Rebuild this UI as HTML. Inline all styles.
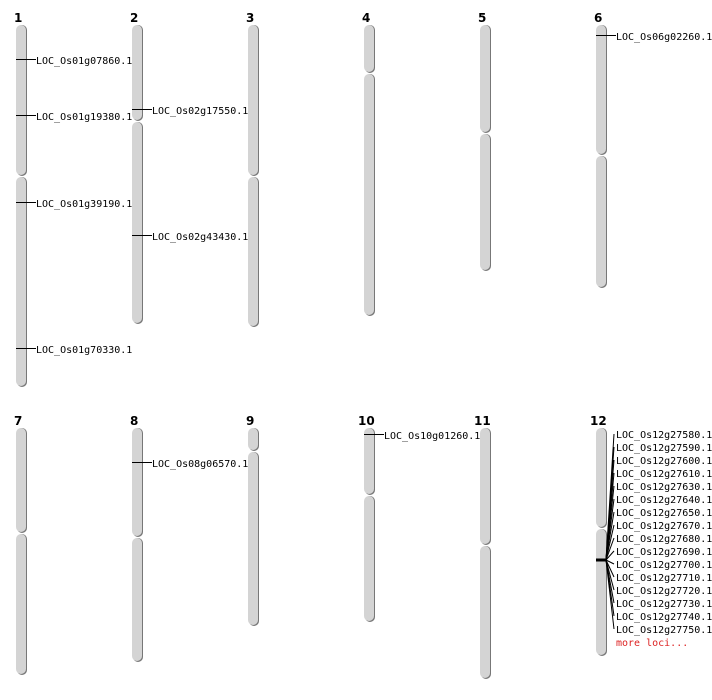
<!DOCTYPE html>
<html><head><meta charset="utf-8"><style>
html,body{margin:0;padding:0;background:#fff;}
svg{display:block;}
text{font-family:"DejaVu Sans Mono","Liberation Mono",monospace;font-size:10px;fill:#000;}
.n{font-family:"DejaVu Sans","Liberation Sans",sans-serif;font-weight:bold;font-size:12px;}
.s{fill:#777;}
.c{fill:#d4d4d4;}
line{stroke:#000;stroke-width:1;}
</style></head><body>
<svg width="712" height="700" viewBox="0 0 712 700" xmlns="http://www.w3.org/2000/svg">
<g id="top">
<text class="n" x="14" y="22">1</text>
<text class="n" x="130" y="22">2</text>
<text class="n" x="246" y="22">3</text>
<text class="n" x="362" y="22">4</text>
<text class="n" x="478" y="22">5</text>
<text class="n" x="594" y="22">6</text>
<text class="n" x="14" y="425">7</text>
<text class="n" x="130" y="425">8</text>
<text class="n" x="246" y="425">9</text>
<text class="n" x="358" y="425">10</text>
<text class="n" x="474" y="425">11</text>
<text class="n" x="590" y="425">12</text>
</g>
<!-- chromosomes: shadow then body -->
<g>
<rect class="s" x="17" y="25" width="10" height="151" rx="5"/><rect class="c" x="16" y="25" width="10" height="150" rx="5"/>
<rect class="s" x="17" y="177" width="10" height="210" rx="5"/><rect class="c" x="16" y="177" width="10" height="209" rx="5"/>
<rect class="s" x="133" y="25" width="10" height="96" rx="5"/><rect class="c" x="132" y="25" width="10" height="95" rx="5"/>
<rect class="s" x="133" y="122" width="10" height="202" rx="5"/><rect class="c" x="132" y="122" width="10" height="201" rx="5"/>
<rect class="s" x="249" y="25" width="10" height="151" rx="5"/><rect class="c" x="248" y="25" width="10" height="150" rx="5"/>
<rect class="s" x="249" y="177" width="10" height="150" rx="5"/><rect class="c" x="248" y="177" width="10" height="149" rx="5"/>
<rect class="s" x="365" y="25" width="10" height="48" rx="5"/><rect class="c" x="364" y="25" width="10" height="47" rx="5"/>
<rect class="s" x="365" y="74" width="10" height="242" rx="5"/><rect class="c" x="364" y="74" width="10" height="241" rx="5"/>
<rect class="s" x="481" y="25" width="10" height="108" rx="5"/><rect class="c" x="480" y="25" width="10" height="107" rx="5"/>
<rect class="s" x="481" y="134" width="10" height="137" rx="5"/><rect class="c" x="480" y="134" width="10" height="136" rx="5"/>
<rect class="s" x="597" y="25" width="10" height="130" rx="5"/><rect class="c" x="596" y="25" width="10" height="129" rx="5"/>
<rect class="s" x="597" y="156" width="10" height="132" rx="5"/><rect class="c" x="596" y="156" width="10" height="131" rx="5"/>

<rect class="s" x="17" y="428" width="10" height="105" rx="5"/><rect class="c" x="16" y="428" width="10" height="104" rx="5"/>
<rect class="s" x="17" y="534" width="10" height="141" rx="5"/><rect class="c" x="16" y="534" width="10" height="140" rx="5"/>
<rect class="s" x="133" y="428" width="10" height="109" rx="5"/><rect class="c" x="132" y="428" width="10" height="108" rx="5"/>
<rect class="s" x="133" y="538" width="10" height="124" rx="5"/><rect class="c" x="132" y="538" width="10" height="123" rx="5"/>
<rect class="s" x="249" y="428" width="10" height="23" rx="5"/><rect class="c" x="248" y="428" width="10" height="22" rx="5"/>
<rect class="s" x="249" y="452" width="10" height="174" rx="5"/><rect class="c" x="248" y="452" width="10" height="173" rx="5"/>
<rect class="s" x="365" y="428" width="10" height="67" rx="5"/><rect class="c" x="364" y="428" width="10" height="66" rx="5"/>
<rect class="s" x="365" y="496" width="10" height="126" rx="5"/><rect class="c" x="364" y="496" width="10" height="125" rx="5"/>
<rect class="s" x="481" y="428" width="10" height="117" rx="5"/><rect class="c" x="480" y="428" width="10" height="116" rx="5"/>
<rect class="s" x="481" y="546" width="10" height="133" rx="5"/><rect class="c" x="480" y="546" width="10" height="132" rx="5"/>
<rect class="s" x="597" y="428" width="10" height="100" rx="5"/><rect class="c" x="596" y="428" width="10" height="99" rx="5"/>
<rect class="s" x="597" y="529" width="10" height="127" rx="5"/><rect class="c" x="596" y="529" width="10" height="126" rx="5"/>
</g>
<!-- markers -->
<g>
<line x1="16" y1="59.5" x2="36" y2="59.5"/><text x="36" y="64">LOC_Os01g07860.1</text>
<line x1="16" y1="115.5" x2="36" y2="115.5"/><text x="36" y="120">LOC_Os01g19380.1</text>
<line x1="16" y1="202.5" x2="36" y2="202.5"/><text x="36" y="207">LOC_Os01g39190.1</text>
<line x1="16" y1="348.5" x2="36" y2="348.5"/><text x="36" y="353">LOC_Os01g70330.1</text>
<line x1="132" y1="109.5" x2="152" y2="109.5"/><text x="152" y="114">LOC_Os02g17550.1</text>
<line x1="132" y1="235.5" x2="152" y2="235.5"/><text x="152" y="240">LOC_Os02g43430.1</text>
<line x1="596" y1="35.5" x2="616" y2="35.5"/><text x="616" y="40">LOC_Os06g02260.1</text>
<line x1="132" y1="462.5" x2="152" y2="462.5"/><text x="152" y="467">LOC_Os08g06570.1</text>
<line x1="364" y1="434.5" x2="384" y2="434.5"/><text x="384" y="439">LOC_Os10g01260.1</text>
</g>
<g>
<line x1="596" y1="560" x2="606" y2="560" style="stroke-width:3"/>
<line x1="606" y1="560" x2="614" y2="434"/><line x1="606" y1="560" x2="614" y2="447"/>
<line x1="606" y1="560" x2="614" y2="460"/><line x1="606" y1="560" x2="614" y2="473"/>
<line x1="606" y1="560" x2="614" y2="486"/><line x1="606" y1="560" x2="614" y2="499"/>
<line x1="606" y1="560" x2="614" y2="512"/><line x1="606" y1="560" x2="614" y2="525"/>
<line x1="606" y1="560" x2="614" y2="538"/><line x1="606" y1="560" x2="614" y2="551"/>
<line x1="606" y1="560" x2="614" y2="564"/><line x1="606" y1="560" x2="614" y2="577"/>
<line x1="606" y1="560" x2="614" y2="590"/><line x1="606" y1="560" x2="614" y2="603"/>
<line x1="606" y1="560" x2="614" y2="616"/><line x1="606" y1="560" x2="614" y2="629"/>
<text x="616" y="438">LOC_Os12g27580.1</text>
<text x="616" y="451">LOC_Os12g27590.1</text>
<text x="616" y="464">LOC_Os12g27600.1</text>
<text x="616" y="477">LOC_Os12g27610.1</text>
<text x="616" y="490">LOC_Os12g27630.1</text>
<text x="616" y="503">LOC_Os12g27640.1</text>
<text x="616" y="516">LOC_Os12g27650.1</text>
<text x="616" y="529">LOC_Os12g27670.1</text>
<text x="616" y="542">LOC_Os12g27680.1</text>
<text x="616" y="555">LOC_Os12g27690.1</text>
<text x="616" y="568">LOC_Os12g27700.1</text>
<text x="616" y="581">LOC_Os12g27710.1</text>
<text x="616" y="594">LOC_Os12g27720.1</text>
<text x="616" y="607">LOC_Os12g27730.1</text>
<text x="616" y="620">LOC_Os12g27740.1</text>
<text x="616" y="633">LOC_Os12g27750.1</text>
<text x="616" y="646" style="fill:#d22">more loci...</text>
</g>
</svg>
</body></html>
